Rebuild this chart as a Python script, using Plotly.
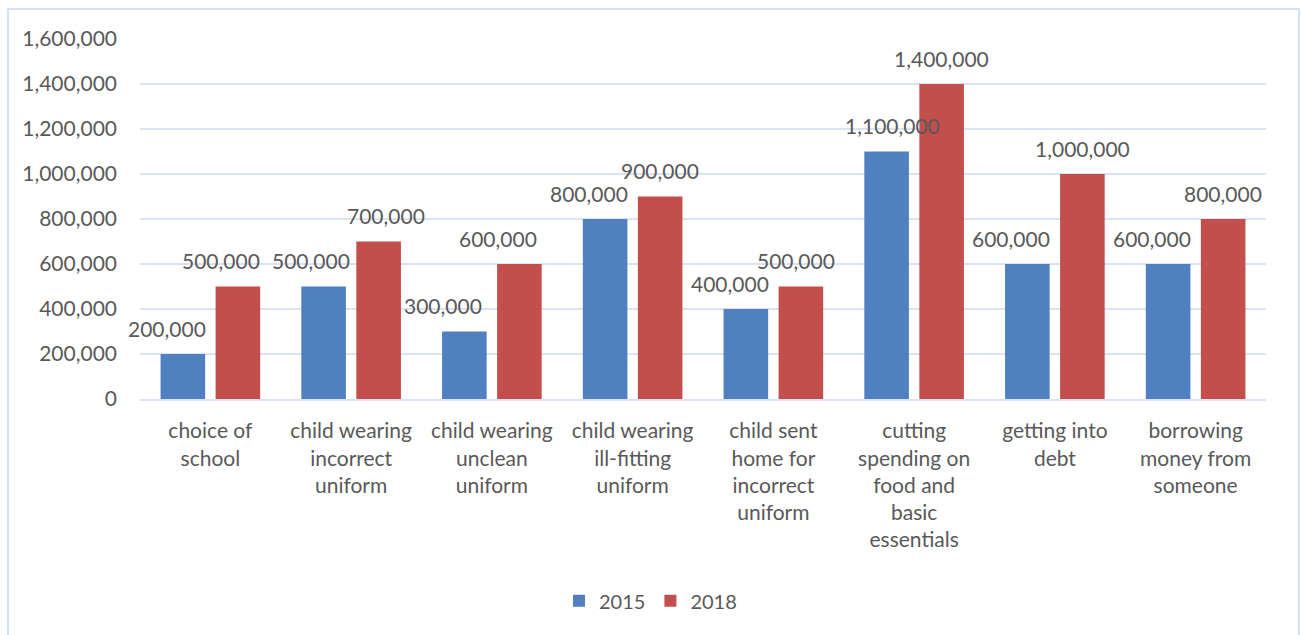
import plotly.graph_objects as go

# Survey categories (line breaks are part of the axis labels)
categories = [
    "choice of<br>school",
    "child wearing<br>incorrect<br>uniform",
    "child wearing<br>unclean<br>uniform",
    "child wearing<br>ill-fitting<br>uniform",
    "child sent<br>home for<br>incorrect<br>uniform",
    "cutting<br>spending on<br>food and<br>basic<br>essentials",
    "getting into<br>debt",
    "borrowing<br>money from<br>someone",
]
values_2015 = [200000, 500000, 300000, 800000, 400000, 1100000, 600000, 600000]
values_2018 = [500000, 700000, 600000, 900000, 500000, 1400000, 1000000, 800000]
y_ticks = [0, 200000, 400000, 600000, 800000, 1000000, 1200000, 1400000, 1600000]

# Horizontal nudges (px) for value labels so neighbours don't collide
nudge_2015 = [-16, -13, -21, -16, -16, 6, -16, -16]
nudge_2018 = [-17, 7, -21, 0, -5, 0, 0, 0]

BLUE = "#4f80c0"
RED = "#c24f4c"
TEXT = "#595959"
GRID = "#d9e3f1"
FONT = "Lato, 'Open Sans', sans-serif"

fig = go.Figure()
fig.add_trace(go.Bar(name="2015", x=categories, y=values_2015,
                     marker=dict(color=BLUE, line=dict(width=0))))
fig.add_trace(go.Bar(name="2018", x=categories, y=values_2018,
                     marker=dict(color=RED, line=dict(width=0))))

# Value labels above each bar
W, H = 1301, 635
L, R, T, B = 140, 35, 39, 236
cat_px = (W - L - R) / len(categories)
slot = cat_px * (1 - 0.218) / 2
annotations = []
for series, nudges, side in ((values_2015, nudge_2015, -1), (values_2018, nudge_2018, 1)):
    for cat, v, n in zip(categories, series, nudges):
        annotations.append(dict(
            x=cat, y=v, xref="x", yref="y", text=f"{v:,}", showarrow=False,
            xshift=side * slot / 2 + n, yshift=26, yanchor="middle",
            font=dict(family=FONT, size=21, color=TEXT),
        ))

fig.update_layout(
    width=W, height=H,
    margin=dict(l=L, r=R, t=T, b=B, autoexpand=False),
    paper_bgcolor="white", plot_bgcolor="white",
    barmode="group", bargap=0.218, bargroupgap=0.19,
    font=dict(family=FONT, size=21, color=TEXT),
    annotations=annotations,
    legend=dict(orientation="h", xref="container", yref="container",
                x=0.5, xanchor="center", y=0.054, yanchor="middle",
                font=dict(family=FONT, size=20, color=TEXT)),
    shapes=[dict(type="rect", xref="paper", yref="paper",
                 x0=(8 - L) / (W - L - R), x1=(1299 - L) / (W - L - R),
                 y0=-0.75, y1=(H - B - 9) / (H - T - B),
                 line=dict(color="#c8d9ee", width=1.5), layer="below")],
)
fig.update_yaxes(range=[0, 1600000], tickvals=y_ticks, tickformat=",",
                 showgrid=True, gridcolor=GRID, gridwidth=2,
                 zeroline=False, ticks="", ticklabelstandoff=22,
                 automargin=False,
                 tickfont=dict(family=FONT, size=21, color=TEXT))
fig.update_xaxes(range=[-0.5, len(categories) - 0.5],
                 showline=True, linecolor=GRID, linewidth=2, ticks="",
                 ticklabelstandoff=12, automargin=False,
                 tickfont=dict(family=FONT, size=21, color=TEXT))

fig.write_html("out.html")
